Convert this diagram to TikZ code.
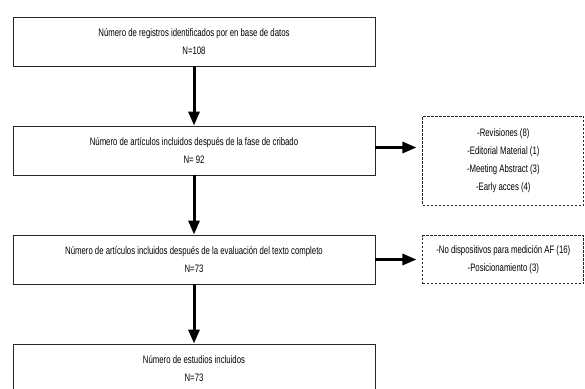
\documentclass[tikz,border=0pt]{standalone}
\usepackage{fontspec}
\setmainfont{Liberation Sans}[FakeStretch=0.72]
\usetikzlibrary{arrows.meta, positioning}
\tikzstyle{process} = [rectangle, minimum width=362pt, minimum height=49pt, text centered, align=center, draw=black!85, line width=0.9pt, font=\fontsize{10.8}{18}\selectfont]
\tikzstyle{excl} = [rectangle, minimum width=161pt, minimum height=48pt, text centered, align=center, draw=black!85, line width=0.8pt, dash pattern=on 2.5pt off 1.5pt, font=\fontsize{10.8}{18}\selectfont]
\tikzstyle{arrow} = [line width=3pt, -{Triangle[length=14pt,width=11pt]}]
\begin{document}
\begin{tikzpicture}[node distance=109pt]
\useasboundingbox (0,0) rectangle (585pt,-388pt);

%main column
\node (registros) [process] at (194pt,-41.5pt) {Número de registros identificados por en base de datos\\N=108};
\node (cribado) [process, below of=registros] {Número de artículos incluidos después de la fase de cribado\\N= 92};
\node (completo) [process, below of=cribado] {Número de artículos incluidos después de la evaluación del texto completo\\N=73};
\node (estudios) [process, below of=completo] {Número de estudios incluidos\\N=73};
%excluded
\node (excl1) [excl, right=47pt of cribado, yshift=-10pt, minimum height=89pt] {-Revisiones (8)\\-Editorial Material (1)\\-Meeting Abstract (3)\\-Early acces (4)};
\node (excl2) [excl, right=47pt of completo] {-No dispositivos para medición AF (16)\\-Posicionamiento (3)};

%arrows
\draw [arrow] (registros) -- (cribado);
\draw [arrow] (cribado) -- (completo);
\draw [arrow] (completo) -- (estudios);
\draw [arrow, shorten >=6pt] ([yshift=3pt]cribado.east) -- ([yshift=3pt]cribado.east -| excl1.west);
\draw [arrow, shorten >=6pt] (completo) -- (excl2);

\end{tikzpicture}
\end{document}
